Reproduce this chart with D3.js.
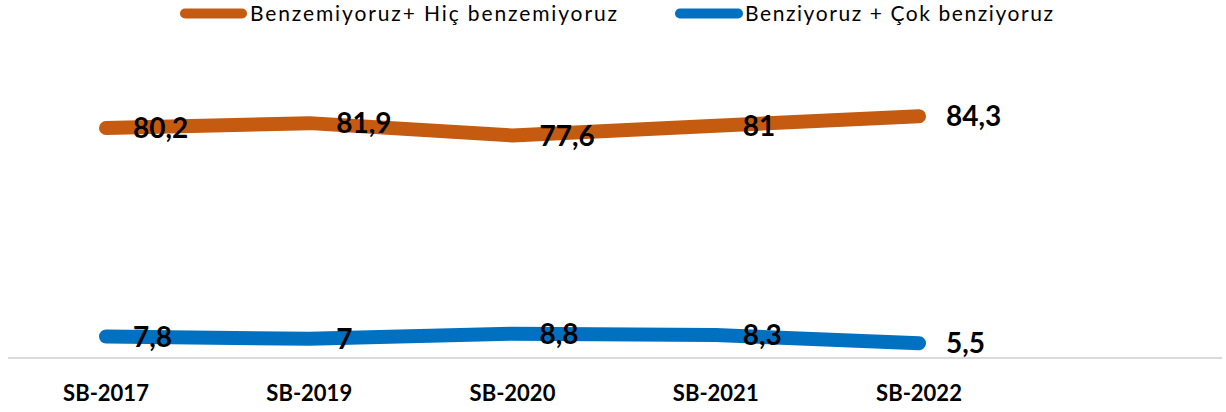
<!DOCTYPE html>
<html>
<head>
<meta charset="utf-8">
<script src="https://cdn.jsdelivr.net/npm/d3@7"></script>
<style>
  body { margin: 0; background: #fff; }
  svg { display: block; font-family: Lato, "Open Sans", sans-serif; }
</style>
</head>
<body>
<svg id="chart" width="1226" height="412"></svg>
<script>
// data
const categories = ['SB-2017', 'SB-2019', 'SB-2020', 'SB-2021', 'SB-2022'];
const seriesNames = ['Benzemiyoruz+ Hiç benzemiyoruz', 'Benziyoruz + Çok benziyoruz'];
const notLike = [80.2, 81.9, 77.6, 81, 84.3];
const like = [7.8, 7, 8.8, 8.3, 5.5];
const colors = ['#C55A11', '#0070C0'];

const svg = d3.select('#chart');

const x = d3.scalePoint()
    .domain(categories)
    .range([106, 919]);

const y = d3.scaleLinear()
    .domain([0, 100])
    .range([359, 71]);

// horizontal axis line
svg.append('line')
    .attr('x1', 8).attr('x2', 1222)
    .attr('y1', 358).attr('y2', 358)
    .attr('stroke', '#d9d9d9')
    .attr('stroke-width', 2);

// category labels
svg.append('g')
    .selectAll('text')
    .data(categories)
    .join('text')
    .attr('x', d => x(d))
    .attr('y', 401)
    .attr('text-anchor', 'middle')
    .attr('font-size', 22)
    .attr('font-weight', 'bold')
    .attr('fill', '#000')
    .text(d => d);

const line = d3.line()
    .x((d, i) => x(categories[i]))
    .y(d => y(d));

const fmt = v => String(v).replace('.', ',');

[notLike, like].forEach((values, s) => {
    svg.append('path')
        .datum(values)
        .attr('fill', 'none')
        .attr('stroke', colors[s])
        .attr('stroke-width', 14)
        .attr('stroke-linecap', 'round')
        .attr('stroke-linejoin', 'round')
        .attr('d', line);

    svg.append('g')
        .selectAll('text')
        .data(values)
        .join('text')
        .attr('x', (d, i) => x(categories[i]) + 27)
        .attr('y', d => y(d) + 10)
        .attr('font-size', 28)
        .attr('font-weight', 'bold')
        .attr('fill', '#000')
        .text(d => fmt(d));
});

// legend
const legend = [
    { name: seriesNames[0], color: colors[0], x1: 185, x2: 242, tx: 250, tw: 367 },
    { name: seriesNames[1], color: colors[1], x1: 680, x2: 738, tx: 745, tw: 308 }
];
legend.forEach(l => {
    svg.append('line')
        .attr('x1', l.x1).attr('x2', l.x2)
        .attr('y1', 13.5).attr('y2', 13.5)
        .attr('stroke', l.color)
        .attr('stroke-width', 10)
        .attr('stroke-linecap', 'round');
    svg.append('text')
        .attr('x', l.tx)
        .attr('y', 21)
        .attr('font-size', 21)
        .attr('fill', '#000')
        .attr('textLength', l.tw)
        .attr('lengthAdjust', 'spacing')
        .text(l.name);
});
</script>
</body>
</html>
